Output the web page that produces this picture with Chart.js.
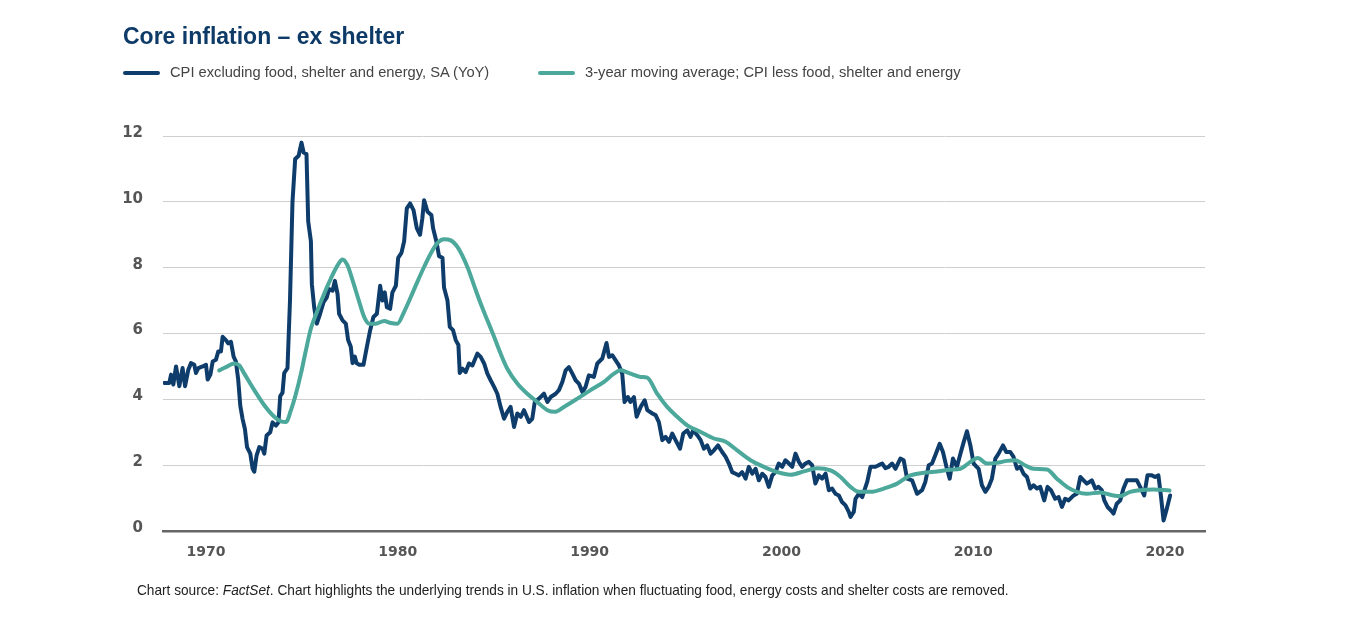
<!DOCTYPE html>
<html>
<head>
<meta charset="utf-8">
<script src="https://cdn.jsdelivr.net/npm/chart.js@4.4.1/dist/chart.umd.min.js"></script>
<style>
  html, body { margin: 0; padding: 0; background: #fff; }
  #wrap { position: relative; width: 1350px; height: 629px; overflow: hidden; }
  canvas { position: absolute; left: 0; top: 0; }
  .title { position: absolute; left: 123px; top: 23px; font: bold 23px "Liberation Sans", Arial, sans-serif; color: #0d3a67; white-space: nowrap; }
  .leg { position: absolute; top: 64px; height: 18px; line-height: 18px; font: 14.7px "Liberation Sans", Arial, sans-serif; color: #444; white-space: nowrap; }
  .leg i { position: absolute; top: 7px; width: 37px; height: 4px; border-radius: 2px; }
  .leg span { position: absolute; left: 47px; top: 0; }
  .src { position: absolute; left: 137px; top: 582px; font: 14.5px "Liberation Sans", Arial, sans-serif; color: #222; white-space: nowrap; transform: scaleX(0.942); transform-origin: 0 0; }
</style>
</head>
<body>
<div id="wrap">
  <canvas id="chart" width="1350" height="629"></canvas>
  <div class="title">Core inflation – ex shelter</div>
  <div class="leg" style="left:123px"><i style="background:#0f3d6b"></i><span id="leg-core"></span></div>
  <div class="leg" style="left:538px"><i style="background:#4ba89a"></i><span id="leg-avg"></span></div>
  <div class="src">Chart source: <em>FactSet</em>. Chart highlights the underlying trends in U.S. inflation when fluctuating food, energy costs and shelter costs are removed.</div>
</div>
<script>
// Series names
const coreLabel = 'CPI excluding food, shelter and energy, SA (YoY)';
const avgLabel = '3-year moving average; CPI less food, shelter and energy';

// Ticks
const xTicks = [1970, 1980, 1990, 2000, 2010, 2020];
const yTicks = [0, 2, 4, 6, 8, 10, 12];

// CPI ex food, shelter, energy (YoY %)
const coreYears = [
  1967.83, 1968.09, 1968.18, 1968.30, 1968.44, 1968.61, 1968.78, 1968.91, 1969.08, 1969.22,
  1969.39, 1969.48, 1969.60, 1969.83, 1970.00, 1970.09, 1970.23, 1970.35, 1970.52, 1970.64,
  1970.78, 1970.87, 1971.04, 1971.16, 1971.30, 1971.44, 1971.56, 1971.68, 1971.79, 1971.91,
  1972.03, 1972.14, 1972.31, 1972.43, 1972.52, 1972.64, 1972.78, 1972.95, 1973.04, 1973.16,
  1973.35, 1973.47, 1973.65, 1973.78, 1973.87, 1973.99, 1974.08, 1974.25, 1974.38, 1974.51,
  1974.65, 1974.83, 1974.98, 1975.09, 1975.24, 1975.33, 1975.47, 1975.52, 1975.64, 1975.78,
  1975.95, 1976.13, 1976.30, 1976.42, 1976.60, 1976.72, 1976.86, 1976.94, 1977.12, 1977.29,
  1977.41, 1977.55, 1977.64, 1977.76, 1977.85, 1977.99, 1978.21, 1978.39, 1978.56, 1978.73,
  1978.91, 1979.08, 1979.20, 1979.32, 1979.43, 1979.60, 1979.72, 1979.90, 1980.02, 1980.19,
  1980.33, 1980.47, 1980.64, 1980.82, 1980.99, 1981.16, 1981.28, 1981.37, 1981.55, 1981.75,
  1981.84, 1982.01, 1982.15, 1982.33, 1982.41, 1982.59, 1982.71, 1982.88, 1983.02, 1983.16,
  1983.23, 1983.37, 1983.54, 1983.71, 1983.89, 1984.15, 1984.32, 1984.50, 1984.67, 1984.84,
  1985.02, 1985.19, 1985.36, 1985.54, 1985.71, 1985.88, 1986.06, 1986.23, 1986.41, 1986.58,
  1986.84, 1987.01, 1987.14, 1987.36, 1987.62, 1987.80, 1987.97, 1988.23, 1988.40, 1988.58,
  1988.75, 1988.92, 1989.10, 1989.27, 1989.44, 1989.62, 1989.79, 1989.96, 1990.22, 1990.40,
  1990.66, 1990.88, 1991.01, 1991.18, 1991.35, 1991.53, 1991.70, 1991.82, 1991.99, 1992.13,
  1992.31, 1992.45, 1992.66, 1992.87, 1993.01, 1993.27, 1993.44, 1993.61, 1993.79, 1993.96,
  1994.14, 1994.31, 1994.48, 1994.71, 1994.88, 1995.09, 1995.26, 1995.40, 1995.61, 1995.79,
  1995.96, 1996.13, 1996.31, 1996.48, 1996.69, 1996.91, 1997.09, 1997.26, 1997.43, 1997.61,
  1997.78, 1997.95, 1998.13, 1998.30, 1998.48, 1998.65, 1998.82, 1999.00, 1999.17, 1999.34,
  1999.52, 1999.69, 1999.86, 2000.04, 2000.21, 2000.39, 2000.56, 2000.73, 2000.91, 2001.08,
  2001.25, 2001.43, 2001.60, 2001.77, 2001.95, 2002.12, 2002.30, 2002.47, 2002.64, 2002.82,
  2002.99, 2003.16, 2003.34, 2003.51, 2003.60, 2003.77, 2003.86, 2004.03, 2004.21, 2004.47,
  2004.64, 2004.90, 2005.07, 2005.25, 2005.42, 2005.59, 2005.77, 2005.94, 2006.20, 2006.37,
  2006.55, 2006.81, 2007.07, 2007.33, 2007.50, 2007.68, 2007.85, 2008.02, 2008.25, 2008.42,
  2008.60, 2008.77, 2008.94, 2009.15, 2009.33, 2009.50, 2009.67, 2009.85, 2010.02, 2010.28,
  2010.45, 2010.63, 2010.80, 2010.97, 2011.15, 2011.32, 2011.55, 2011.72, 2011.93, 2012.10,
  2012.28, 2012.45, 2012.62, 2012.80, 2012.97, 2013.14, 2013.32, 2013.49, 2013.70, 2013.87,
  2014.05, 2014.27, 2014.45, 2014.62, 2014.79, 2014.97, 2015.23, 2015.40, 2015.58, 2015.75,
  2015.92, 2016.18, 2016.36, 2016.53, 2016.70, 2016.83, 2017.00, 2017.17, 2017.31, 2017.48,
  2017.66, 2017.83, 2018.01, 2018.27, 2018.53, 2018.70, 2018.91, 2019.08, 2019.31, 2019.48,
  2019.65, 2019.78, 2019.92, 2020.09, 2020.26
];
const coreValues = [
  4.50, 4.50, 4.75, 4.45, 5.00, 4.40, 4.95, 4.40, 4.90, 5.10,
  5.05, 4.80, 4.95, 5.00, 5.05, 4.60, 4.75, 5.15, 5.20, 5.45,
  5.45, 5.90, 5.80, 5.70, 5.75, 5.30, 5.15, 4.60, 3.80, 3.40,
  3.10, 2.55, 2.35, 1.90, 1.80, 2.30, 2.55, 2.50, 2.35, 2.90,
  3.00, 3.30, 3.20, 3.30, 4.10, 4.20, 4.80, 4.95, 7.00, 10.00,
  11.30, 11.40, 11.80, 11.50, 11.45, 9.40, 8.80, 7.50, 6.80, 6.30,
  6.60, 6.95, 7.10, 7.35, 7.30, 7.60, 7.20, 6.60, 6.40, 6.30,
  5.80, 5.60, 5.10, 5.30, 5.10, 5.05, 5.05, 5.60, 6.10, 6.50,
  6.60, 7.45, 7.00, 7.25, 6.80, 6.75, 7.25, 7.45, 8.30, 8.45,
  8.80, 9.80, 9.95, 9.75, 9.20, 9.00, 9.50, 10.05, 9.70, 9.60,
  9.20, 8.80, 8.35, 8.30, 7.40, 7.00, 6.20, 6.10, 5.80, 5.65,
  4.80, 4.93, 4.83, 5.09, 5.03, 5.39, 5.29, 5.09, 4.78, 4.58,
  4.38, 4.17, 3.77, 3.41, 3.62, 3.77, 3.16, 3.57, 3.47, 3.67,
  3.31, 3.41, 3.92, 4.02, 4.17, 3.92, 4.07, 4.17, 4.28, 4.53,
  4.88, 4.98, 4.78, 4.58, 4.48, 4.22, 4.38, 4.73, 4.68, 5.09,
  5.24, 5.71, 5.29, 5.34, 5.19, 5.03, 4.78, 3.92, 4.07, 3.92,
  4.07, 3.47, 3.77, 3.97, 3.67, 3.57, 3.52, 3.31, 2.76, 2.86,
  2.71, 2.96, 2.76, 2.50, 2.96, 3.06, 2.86, 3.06, 2.91, 2.76,
  2.50, 2.60, 2.35, 2.45, 2.60, 2.40, 2.25, 2.05, 1.79, 1.74,
  1.69, 1.79, 1.59, 1.95, 1.74, 1.89, 1.54, 1.74, 1.64, 1.34,
  1.69, 1.79, 2.05, 1.95, 2.15, 2.05, 1.95, 2.35, 2.10, 1.95,
  2.05, 2.10, 2.00, 1.44, 1.69, 1.59, 1.74, 1.24, 1.29, 1.13,
  1.08, 0.88, 0.78, 0.58, 0.43, 0.58, 0.98, 1.13, 1.03, 1.49,
  1.95, 1.95, 2.00, 2.05, 1.91, 1.95, 2.05, 1.89, 2.20, 2.15,
  1.59, 1.54, 1.13, 1.24, 1.49, 2.00, 2.05, 2.30, 2.65, 2.40,
  1.95, 1.59, 2.20, 1.95, 2.35, 2.70, 3.03, 2.60, 2.05, 1.89,
  1.39, 1.19, 1.34, 1.59, 2.20, 2.35, 2.60, 2.40, 2.40, 2.25,
  1.89, 1.95, 1.74, 1.64, 1.29, 1.39, 1.29, 1.34, 0.93, 1.34,
  1.24, 0.98, 1.03, 0.73, 0.98, 0.93, 1.08, 1.13, 1.64, 1.54,
  1.44, 1.54, 1.29, 1.34, 1.24, 0.93, 0.73, 0.63, 0.53, 0.83,
  0.93, 1.29, 1.54, 1.54, 1.54, 1.34, 1.08, 1.69, 1.69, 1.64,
  1.69, 1.08, 0.32, 0.68, 1.08
];

// 3-year moving average
const avgYears = [
  1970.69, 1971.04, 1971.48, 1971.74, 1972.00, 1972.52, 1973.04, 1973.56, 1973.91, 1974.17,
  1974.43, 1974.69, 1974.95, 1975.21, 1975.47, 1975.82, 1976.16, 1976.51, 1976.86, 1977.12,
  1977.38, 1977.64, 1977.99, 1978.25, 1978.51, 1978.85, 1979.29, 1979.64, 1979.98, 1980.33,
  1980.68, 1981.02, 1981.37, 1981.72, 1982.07, 1982.41, 1982.76, 1983.11, 1983.63, 1983.97,
  1984.32, 1984.67, 1985.02, 1985.36, 1985.71, 1986.23, 1986.75, 1987.27, 1987.80, 1988.18,
  1988.66, 1989.36, 1990.05, 1990.75, 1991.27, 1991.61, 1992.13, 1992.66, 1993.00, 1993.52,
  1994.04, 1994.57, 1995.09, 1995.79, 1996.48, 1997.09, 1997.69, 1998.39, 1999.08, 1999.78,
  2000.47, 2001.17, 2001.86, 2002.56, 2003.08, 2003.60, 2004.03, 2004.64, 2005.33, 2006.03,
  2006.72, 2007.42, 2008.11, 2008.80, 2009.33, 2009.85, 2010.23, 2010.71, 2011.23, 2011.76,
  2012.19, 2012.62, 2013.14, 2013.84, 2014.36, 2014.88, 2015.40, 2015.92, 2016.62, 2017.31,
  2017.66, 2018.18, 2018.70, 2019.39, 2020.23
];
const avgValues = [
  4.88, 4.98, 5.09, 5.03, 4.78, 4.28, 3.82, 3.47, 3.33, 3.31,
  3.67, 4.17, 4.78, 5.49, 6.15, 6.71, 7.21, 7.67, 8.07, 8.25,
  8.07, 7.62, 6.96, 6.50, 6.30, 6.30, 6.38, 6.32, 6.30, 6.66,
  7.11, 7.57, 8.02, 8.43, 8.75, 8.86, 8.83, 8.63, 8.02, 7.47,
  6.91, 6.40, 5.90, 5.39, 4.93, 4.48, 4.17, 3.92, 3.67, 3.62,
  3.77, 4.02, 4.28, 4.53, 4.78, 4.88, 4.78, 4.68, 4.66, 4.17,
  3.77, 3.47, 3.21, 3.01, 2.81, 2.71, 2.45, 2.15, 1.95, 1.79,
  1.71, 1.81, 1.91, 1.84, 1.64, 1.34, 1.19, 1.19, 1.29, 1.44,
  1.69, 1.77, 1.81, 1.86, 1.89, 2.10, 2.22, 2.05, 2.07, 2.13,
  2.15, 2.02, 1.89, 1.87, 1.59, 1.34, 1.19, 1.13, 1.17, 1.08,
  1.06, 1.19, 1.24, 1.26, 1.23
];

document.getElementById('leg-core').textContent = coreLabel;
document.getElementById('leg-avg').textContent = avgLabel;

const toPoints = (xs, ys) => xs.map((x, i) => ({ x, y: ys[i] }));
const tickFont = { family: "'DejaVu Sans', 'Liberation Sans', sans-serif", weight: 'bold' };

new Chart(document.getElementById('chart'), {
  type: 'line',
  data: {
    datasets: [
      {
        label: coreLabel,
        data: toPoints(coreYears, coreValues),
        borderColor: '#0f3d6b',
        borderWidth: 4,
        tension: 0,
        borderJoinStyle: 'round',
        borderCapStyle: 'round',
        pointRadius: 0,
        order: 1,
      },
      {
        label: avgLabel,
        data: toPoints(avgYears, avgValues),
        borderColor: '#4ba89a',
        borderWidth: 4,
        cubicInterpolationMode: 'monotone',
        borderCapStyle: 'round',
        pointRadius: 0,
        order: 0,
      }
    ]
  },
  options: {
    responsive: false,
    animation: false,
    events: [],
    layout: { padding: { left: 103, right: 145, top: 136, bottom: 58 } },
    plugins: { legend: { display: false }, tooltip: { enabled: false } },
    scales: {
      x: {
        type: 'linear',
        min: 1967.76,
        max: 2022.08,
        afterFit: s => { s.height = 40; },
        afterBuildTicks: s => { s.ticks = xTicks.map(v => ({ value: v })); },
        grid: { display: false },
        border: { display: true, color: '#666', width: 2.5 },
        ticks: { padding: 5, color: '#555', font: { ...tickFont, size: 14 }, maxRotation: 0, autoSkip: false, callback: v => String(v) }
      },
      y: {
        min: 0,
        max: 12,
        afterFit: s => { s.width = 60; },
        afterBuildTicks: s => { s.ticks = yTicks.map(v => ({ value: v })); },
        grid: { color: '#cfcfcf', lineWidth: 1, drawTicks: false },
        border: { display: false },
        ticks: { padding: 20, labelOffset: -3, color: '#555', font: { ...tickFont, size: 15 } }
      }
    }
  }
});
</script>
</body>
</html>
